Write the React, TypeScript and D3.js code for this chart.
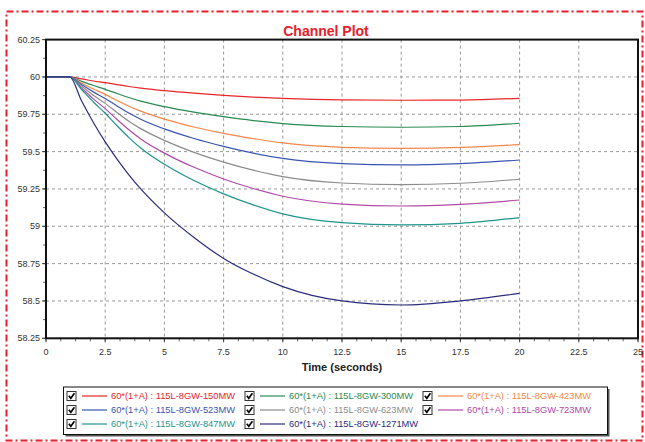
import React from "react";
import * as d3 from "d3";

const times = [0, 1, 1.5, 2, 2.5, 3, 3.5, 4, 5, 6.25, 7.5, 8.75, 10, 12.5, 15, 17.5, 20];

const seriesNames = [
  "60*(1+A) : 115L-8GW-150MW",
  "60*(1+A) : 115L-8GW-300MW",
  "60*(1+A) : 115L-8GW-423MW",
  "60*(1+A) : 115L-8GW-523MW",
  "60*(1+A) : 115L-8GW-623MW",
  "60*(1+A) : 115L-8GW-723MW",
  "60*(1+A) : 115L-8GW-847MW",
  "60*(1+A) : 115L-8GW-1271MW",
];

const seriesColors = ["#e8262a", "#2a8a50", "#f5874a", "#3a55b0", "#8c8c8c", "#b04aa8", "#1e958c", "#2c2c7c"];

const v150 = [60, 60, 59.987, 59.973, 59.962, 59.949, 59.936, 59.925, 59.908, 59.891, 59.877, 59.865, 59.856, 59.846, 59.844, 59.845, 59.857];
const v300 = [60, 60, 59.971, 59.943, 59.917, 59.889, 59.862, 59.838, 59.801, 59.764, 59.734, 59.708, 59.688, 59.668, 59.663, 59.668, 59.69];
const v423 = [60, 60, 59.959, 59.919, 59.883, 59.842, 59.804, 59.771, 59.718, 59.665, 59.622, 59.587, 59.558, 59.529, 59.522, 59.528, 59.547];
const v523 = [60, 60, 59.95, 59.9, 59.856, 59.806, 59.759, 59.717, 59.652, 59.588, 59.535, 59.49, 59.455, 59.42, 59.411, 59.42, 59.444];
const v623 = [60, 60, 59.939, 59.877, 59.823, 59.762, 59.704, 59.654, 59.575, 59.495, 59.43, 59.376, 59.333, 59.29, 59.279, 59.288, 59.315];
const v723 = [60, 60, 59.927, 59.853, 59.788, 59.715, 59.646, 59.585, 59.49, 59.395, 59.317, 59.253, 59.201, 59.149, 59.136, 59.147, 59.176];
const v847 = [60, 60, 59.916, 59.832, 59.757, 59.673, 59.594, 59.524, 59.415, 59.306, 59.217, 59.143, 59.083, 59.024, 59.009, 59.02, 59.058];
const v1271 = [60, 60, 59.84, 59.695, 59.565, 59.45, 59.345, 59.25, 59.09, 58.925, 58.785, 58.68, 58.596, 58.5, 58.473, 58.5, 58.551];

const seriesValues = [v150, v300, v423, v523, v623, v723, v847, v1271];

const xTicks = [0, 2.5, 5, 7.5, 10, 12.5, 15, 17.5, 20, 22.5, 25];
const yTicks = [58.25, 58.5, 58.75, 59, 59.25, 59.5, 59.75, 60, 60.25];

const FONT = "'Liberation Sans', Arial, sans-serif";

export default function App() {
  const W = 645, H = 442;
  const left = 46, right = 638, top = 39.6, bottom = 338.3;
  const x = d3.scaleLinear().domain([0, 25]).range([left, right]);
  const y = d3.scaleLinear().domain([58.25, 60.25]).range([bottom, top]);
  const line = d3
    .line<number>()
    .x((_, i) => x(times[i]))
    .y((d) => y(d))
    .curve(d3.curveMonotoneX);

  const xMinor = d3.range(0, 25.001, 0.625);
  const yMinor = d3.range(58.25, 60.2501, 0.125);

  const legendX = 63.5, legendY = 387, legendW = 544, legendH = 47.5;
  const colStep = 178;
  const rowY = [396, 410, 424];

  return (
    <svg
      width={W}
      height={H}
      style={{ position: "absolute", left: 0, top: 0, background: "#fff" }}
      fontFamily={FONT}
    >
      <rect x={0} y={0} width={W} height={H} fill="#fff" />
      <rect
        x={6.5}
        y={11.5}
        width={636}
        height={429}
        fill="none"
        stroke="#e8202a"
        strokeWidth={2}
        strokeDasharray="7,3,2,3"
      />
      <text x={326} y={36} textAnchor="middle" fontSize={14} fontWeight="bold" fill="#e8202a">
        Channel Plot
      </text>

      {xTicks.slice(1, -1).map((t) => (
        <line key={"gx" + t} x1={x(t)} x2={x(t)} y1={top} y2={bottom} stroke="#999" strokeDasharray="3,3" strokeWidth={1} />
      ))}
      {yTicks.slice(1, -1).map((t) => (
        <line key={"gy" + t} x1={left} x2={right} y1={y(t)} y2={y(t)} stroke="#999" strokeDasharray="3,3" strokeWidth={1} />
      ))}

      {xMinor.map((t) => (
        <line key={"mx" + t} x1={x(t)} x2={x(t)} y1={bottom} y2={bottom + 3} stroke="#666" strokeWidth={1} />
      ))}
      {yMinor.map((t) => (
        <line key={"my" + t} x1={left - 3} x2={left} y1={y(t)} y2={y(t)} stroke="#666" strokeWidth={1} />
      ))}
      {xTicks.map((t) => (
        <line key={"tx" + t} x1={x(t)} x2={x(t)} y1={bottom} y2={bottom + 4} stroke="#444" strokeWidth={1} />
      ))}
      {yTicks.map((t) => (
        <line key={"ty" + t} x1={left - 4} x2={left} y1={y(t)} y2={y(t)} stroke="#444" strokeWidth={1} />
      ))}

      {seriesValues.map((vals, i) => (
        <path key={"s" + i} d={line(vals) || ""} fill="none" stroke={seriesColors[i]} strokeWidth={1.2} />
      ))}

      <rect x={left} y={top} width={right - left} height={bottom - top} fill="none" stroke="#111" strokeWidth={2} />

      {xTicks.map((t) => (
        <text key={"lx" + t} x={x(t)} y={354.5} textAnchor="middle" fontSize={9} fill="#333">
          {d3.format("")(t)}
        </text>
      ))}
      {yTicks.map((t) => (
        <text key={"ly" + t} x={40} y={y(t) + 3} textAnchor="end" fontSize={9} fill="#333">
          {d3.format("")(t)}
        </text>
      ))}
      <text x={342} y={371} textAnchor="middle" fontSize={11} fontWeight="bold" fill="#222">
        Time (seconds)
      </text>

      <rect x={legendX + 2} y={legendY + 2} width={legendW} height={legendH} fill="#555" />
      <rect x={legendX} y={legendY} width={legendW} height={legendH} fill="#fff" stroke="#111" strokeWidth={1} />
      {seriesNames.map((name, i) => {
        const col = i % 3;
        const row = Math.floor(i / 3);
        const bx = 67 + col * colStep;
        const cy = rowY[row];
        return (
          <g key={"lg" + i}>
            <rect x={bx} y={cy - 4.5} width={9} height={9} fill="#fff" stroke="#333" strokeWidth={1} />
            <path
              d={`M${bx + 1.8},${cy - 0.2} L${bx + 3.8},${cy + 2.3} L${bx + 7.4},${cy - 2.8}`}
              fill="none"
              stroke="#000"
              strokeWidth={1.6}
            />
            <line x1={bx + 15} x2={bx + 40} y1={cy} y2={cy} stroke={seriesColors[i]} strokeWidth={1.2} />
            <text x={bx + 44} y={cy + 3.3} fontSize={9.3} fill={seriesColors[i]}>
              {name}
            </text>
          </g>
        );
      })}
    </svg>
  );
}
